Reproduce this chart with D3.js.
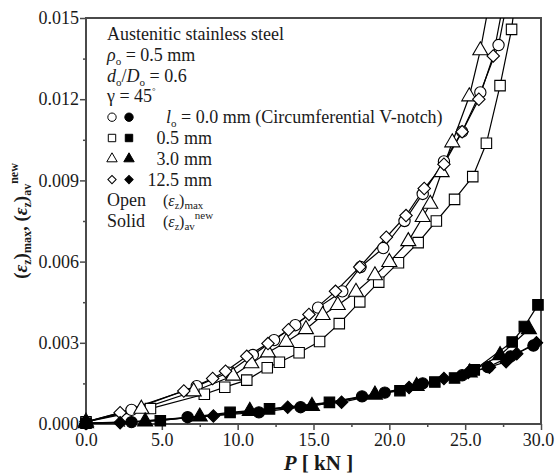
<!DOCTYPE html>
<html>
<head>
<meta charset="utf-8">
<script src="https://cdn.jsdelivr.net/npm/d3@7"></script>
<style>
  body { margin: 0; background: #fff; }
  svg text { font-family: "Liberation Serif", "Times New Roman", serif; fill: #1a1a1a; }
</style>
</head>
<body>
<script>
// load P [kN] and strain values
// open symbols = (eps_z)max, solid symbols = (eps_z)av^new
const circleOpenP = [0, 3.0, 7.3, 9.4, 11.0, 12.4, 13.8, 15.3, 16.9, 18.1, 19.6, 21.0, 22.2, 23.6, 24.8, 26.0, 27.2, 27.9];
const circleOpenE = [0.00008, 0.00052, 0.0014, 0.0019, 0.00255, 0.0031, 0.00365, 0.0043, 0.0049, 0.0058, 0.0065, 0.0075, 0.0085, 0.0097, 0.0108, 0.01225, 0.0140, 0.0160];

const squareOpenP = [0, 4.25, 7.8, 9.15, 10.6, 11.95, 12.75, 14.05, 15.4, 16.7, 18.05, 19.3, 20.6, 21.9, 23.1, 24.3, 25.5, 26.4, 27.3, 28.06, 28.5];
const squareOpenE = [0.00008, 0.00057, 0.0011, 0.00136, 0.00162, 0.00208, 0.00228, 0.00263, 0.00305, 0.00371, 0.00451, 0.00524, 0.00596, 0.0067, 0.0075, 0.0083, 0.00914, 0.01037, 0.0125, 0.01458, 0.0166];

const triangleOpenP = [0, 3.65, 7.1, 9.7, 10.9, 12.0, 13.2, 14.5, 15.6, 16.6, 17.8, 19.05, 20.0, 21.25, 22.2, 22.7, 23.45, 24.15, 25.27, 26.0, 26.8];
const triangleOpenE = [0.00008, 0.00056, 0.0012, 0.00178, 0.00224, 0.00264, 0.00303, 0.0035, 0.00402, 0.00439, 0.00488, 0.00549, 0.00598, 0.00675, 0.00764, 0.00813, 0.0093, 0.0104, 0.0121, 0.0138, 0.0162];

const diamondOpenP = [0, 2.25, 6.45, 8.35, 9.2, 10.6, 12.0, 13.35, 14.7, 16.45, 18.05, 19.8, 21.1, 22.3, 23.6, 24.8, 25.9, 26.85, 27.6];
const diamondOpenE = [0.00008, 0.00042, 0.00122, 0.00168, 0.00195, 0.0025, 0.00297, 0.00348, 0.00405, 0.0049, 0.0058, 0.0069, 0.0077, 0.0087, 0.0096, 0.0108, 0.0120, 0.0136, 0.0158];

const circleSolidP = [0, 3.0, 6.7, 11.4, 14.15, 18.2, 19.7, 22.2, 24.8, 26.5, 28.0, 29.5];
const circleSolidE = [0.00002, 0.00007, 0.00025, 0.00043, 0.00062, 0.00102, 0.00116, 0.0015, 0.0018, 0.0021, 0.0025, 0.0029];

const squareSolidP = [0, 4.9, 9.5, 12.1, 16.05, 20.7, 23.0, 24.3, 25.6, 28.1, 28.9, 29.8];
const squareSolidE = [0.00003, 0.00012, 0.00043, 0.00056, 0.0008, 0.00123, 0.00155, 0.0017, 0.002, 0.00303, 0.0036, 0.0044];

const triangleSolidP = [0, 3.9, 7.5, 10.8, 14.9, 19.05, 21.8, 25.3, 27.3, 29.2];
const triangleSolidE = [0.00002, 0.00009, 0.00027, 0.00048, 0.00066, 0.00108, 0.0014, 0.0019, 0.00254, 0.0035];

const diamondSolidP = [0, 2.25, 8.4, 13.3, 16.85, 21.3, 23.6, 25.2, 26.6, 27.7, 28.4, 29.7];
const diamondSolidE = [0.00002, 0.00005, 0.0003, 0.00062, 0.0008, 0.00135, 0.00168, 0.0019, 0.0021, 0.0023, 0.0026, 0.003];

const xTicks = [0, 5, 10, 15, 20, 25, 30];
const xMinor = [2.5, 7.5, 12.5, 17.5, 22.5, 27.5];
const yTicks = [0, 0.003, 0.006, 0.009, 0.012, 0.015];
const yMinor = [0.0015, 0.0045, 0.0075, 0.0105, 0.0135];

const legendRows = ["0.0 mm (Circumferential V-notch)", "0.5 mm", "3.0 mm", "12.5 mm"];

const W = 555, H = 474;
const mLeft = 86, mRight = 541, mTop = 18, mBottom = 424;

const svg = d3.select("body").append("svg")
    .attr("width", W)
    .attr("height", H);

const x = d3.scaleLinear().domain([0, 30]).range([mLeft, mRight]);
const y = d3.scaleLinear().domain([0, 0.015]).range([mBottom, mTop]);

// shapes
function shapePath(kind, size) {
  if (kind == "circle") return d3.symbol(d3.symbolCircle, size)();
  if (kind == "square") return d3.symbol(d3.symbolSquare, size)();
  if (kind == "triangle") return d3.symbol(d3.symbolTriangle, size * 0.85)();
  return d3.symbol(d3.symbolSquare, size * 0.62)();
}
function shapeRot(kind) { return kind == "diamond" ? " rotate(45)" : ""; }

// axes
const axisColor = "#4a4a4a";

const xAxis = svg.append("g")
    .attr("transform", `translate(0,${mBottom})`)
    .call(d3.axisBottom(x).tickValues(xTicks).tickFormat(d3.format(".1f")).tickSize(6).tickPadding(3));
const xAxisMinor = svg.append("g")
    .attr("transform", `translate(0,${mBottom})`)
    .call(d3.axisBottom(x).tickValues(xMinor).tickFormat("").tickSize(3));

const yAxis = svg.append("g")
    .attr("transform", `translate(${mLeft},0)`)
    .call(d3.axisLeft(y).tickValues(yTicks).tickFormat(d3.format(".3f")).tickSize(6).tickPadding(1));
const yAxisMinor = svg.append("g")
    .attr("transform", `translate(${mLeft},0)`)
    .call(d3.axisLeft(y).tickValues(yMinor).tickFormat("").tickSize(3));

svg.selectAll(".domain").remove();
svg.selectAll(".tick line").attr("stroke", axisColor).attr("stroke-width", 1.5);
svg.selectAll(".tick text")
    .style("font-family", '"Liberation Serif", serif')
    .style("font-size", "18px")
    .attr("fill", "#1a1a1a");
// last x label sits against the page edge
xAxis.selectAll(".tick text").filter(d => d == 30).attr("dx", -3);

svg.append("rect")
    .attr("x", mLeft).attr("y", mTop)
    .attr("width", mRight - mLeft).attr("height", mBottom - mTop)
    .attr("fill", "none")
    .attr("stroke", axisColor)
    .attr("stroke-width", 2);

// data
svg.append("clipPath").attr("id", "plotclip")
  .append("rect")
    .attr("x", mLeft).attr("y", mTop)
    .attr("width", mRight - mLeft).attr("height", mBottom - mTop);

const series = [
  { P: circleOpenP, E: circleOpenE, kind: "circle", solid: false },
  { P: squareOpenP, E: squareOpenE, kind: "square", solid: false },
  { P: triangleOpenP, E: triangleOpenE, kind: "triangle", solid: false },
  { P: diamondOpenP, E: diamondOpenE, kind: "diamond", solid: false },
  { P: circleSolidP, E: circleSolidE, kind: "circle", solid: true },
  { P: squareSolidP, E: squareSolidE, kind: "square", solid: true },
  { P: triangleSolidP, E: triangleSolidE, kind: "triangle", solid: true },
  { P: diamondSolidP, E: diamondSolidE, kind: "diamond", solid: true }
];

const line = d3.line().x(d => x(d[0])).y(d => y(d[1]));
const sizes = { circle: 100, square: 110, triangle: 115, diamond: 125 };

series.forEach(s => {
  const pts = s.P.map((p, i) => [p, s.E[i]]);
  svg.append("path")
      .datum(pts)
      .attr("clip-path", "url(#plotclip)")
      .attr("fill", "none")
      .attr("stroke", "#000")
      .attr("stroke-width", 1.2)
      .attr("d", line);
});

series.forEach(s => {
  const pts = s.P.map((p, i) => [p, s.E[i]]).filter(d => d[1] <= 0.015);
  svg.append("g").selectAll("path")
    .data(pts)
    .enter()
    .append("path")
      .attr("transform", d => `translate(${x(d[0])},${y(d[1])})` + shapeRot(s.kind))
      .attr("d", shapePath(s.kind, sizes[s.kind]))
      .attr("fill", s.solid ? "#000" : "#fff")
      .attr("stroke", "#000")
      .attr("stroke-width", 1.1);
});

// rich text helper
function rich(sel, parts) {
  parts.forEach(p => {
    const t = sel.append("tspan").text(p.t);
    if (p.it) t.attr("font-style", "italic");
    if (p.dy) t.attr("dy", p.dy);
    if (p.fs) t.attr("font-size", p.fs);
  });
}

// legend
const lx = 107, lx2 = 166;
const rowY = i => 40 + 20.8 * i;
const legend = svg.append("g").attr("font-size", 18);

legend.append("text").attr("x", lx).attr("y", rowY(0)).text("Austenitic stainless steel");
rich(legend.append("text").attr("x", lx).attr("y", rowY(1)), [
  { t: "ρ", it: true }, { t: "o", fs: 11, dy: 4 }, { t: " = 0.5 mm", dy: -4 }
]);
rich(legend.append("text").attr("x", lx).attr("y", rowY(2)), [
  { t: "d", it: true }, { t: "o", fs: 11, dy: 4 }, { t: "/", dy: -4 }, { t: "D", it: true },
  { t: "o", fs: 11, dy: 4 }, { t: " = 0.6", dy: -4 }
]);
rich(legend.append("text").attr("x", lx).attr("y", rowY(3)), [
  { t: "γ = 45" }, { t: "°", fs: 9, dy: -8 }
]);

["circle", "square", "triangle", "diamond"].forEach((k, i) => {
  const cy = rowY(4 + i) - 6;
  [false, true].forEach((solid, j) => {
    legend.append("path")
        .attr("transform", `translate(${112 + j * 17},${cy})` + shapeRot(k))
        .attr("d", shapePath(k, 55))
        .attr("fill", solid ? "#000" : "#fff")
        .attr("stroke", "#000")
        .attr("stroke-width", 1);
  });
  const t = legend.append("text").attr("y", rowY(4 + i));
  if (i == 0) {
    t.attr("x", lx2);
    rich(t, [{ t: "l", it: true }, { t: "o", fs: 11, dy: 4 }, { t: " = " + legendRows[0], dy: -4 }]);
  } else {
    t.attr("x", 179).attr("text-anchor", "end").text(legendRows[i].split(" ")[0]);
    legend.append("text").attr("x", 184).attr("y", rowY(4 + i)).text("mm");
  }
});

legend.append("text").attr("x", lx).attr("y", rowY(8)).text("Open");
rich(legend.append("text").attr("x", 163).attr("y", rowY(8)).attr("font-size", 16), [
  { t: "(" }, { t: "ε", it: true }, { t: "z", fs: 10, dy: 3 }, { t: ")", dy: -3 }, { t: "max", fs: 11, dy: 3 }
]);
legend.append("text").attr("x", lx).attr("y", rowY(9)).text("Solid");
rich(legend.append("text").attr("x", 163).attr("y", rowY(9)).attr("font-size", 16), [
  { t: "(" }, { t: "ε", it: true }, { t: "z", fs: 10, dy: 3 }, { t: ")", dy: -3 }, { t: "av", fs: 11, dy: 3 },
  { t: "new", fs: 11, dy: -11 }
]);

// axis titles
rich(svg.append("text")
    .attr("x", (mLeft + mRight) / 2 + 5).attr("y", 470)
    .attr("text-anchor", "middle")
    .attr("font-size", 21)
    .attr("font-weight", "bold"), [
  { t: "P", it: true }, { t: " [ kN ]" }
]);

rich(svg.append("text")
    .attr("transform", `translate(27,${(mTop + mBottom) / 2}) rotate(-90)`)
    .attr("text-anchor", "middle")
    .attr("font-size", 19)
    .attr("font-weight", "bold"), [
  { t: "(" }, { t: "ε", it: true }, { t: "z", fs: 12, dy: 4 }, { t: ")", dy: -4 }, { t: "max", fs: 12, dy: 4 },
  { t: ", (", dy: -4 }, { t: "ε", it: true }, { t: "z", fs: 12, dy: 4 }, { t: ")", dy: -4 }, { t: "av", fs: 12, dy: 4 },
  { t: "new", fs: 12, dy: -13 }
]);
</script>
</body>
</html>
